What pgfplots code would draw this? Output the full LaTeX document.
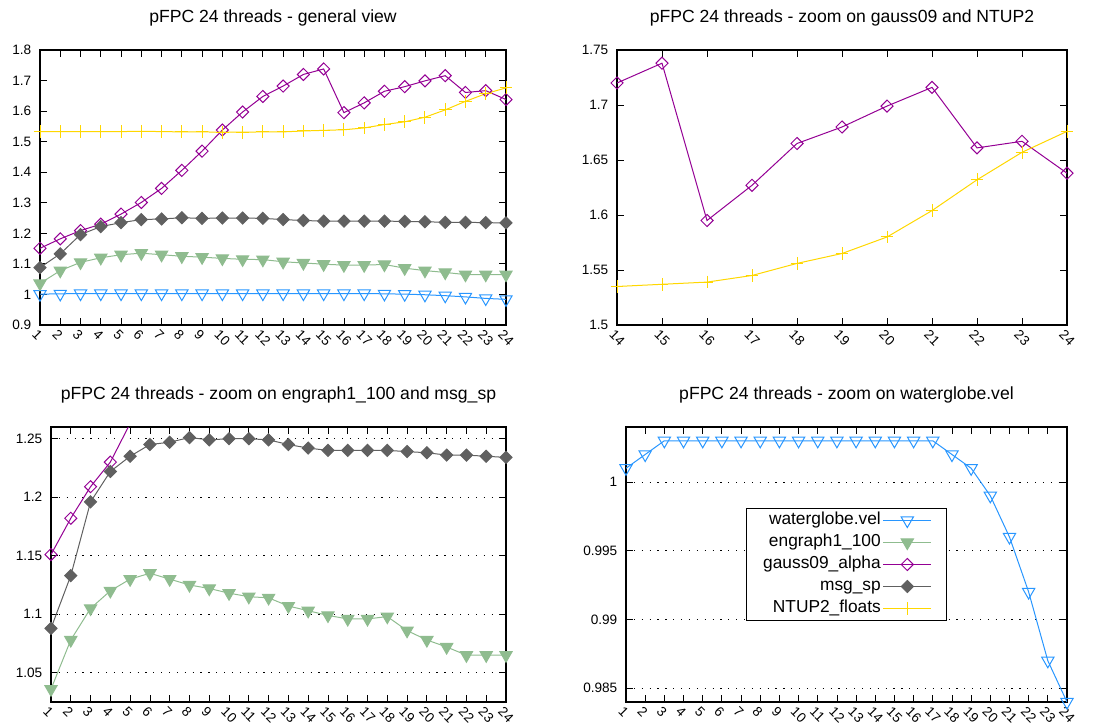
\documentclass[border=0pt]{standalone}
\usepackage{fontspec}
\setmainfont{Liberation Sans}
\usepackage{pgfplots}
\usepackage{pgfplotstable}
\pgfplotsset{compat=1.18}

\definecolor{wgblue}{RGB}{40,150,255}
\definecolor{engreen}{RGB}{143,188,143}
\definecolor{gpurple}{RGB}{148,0,148}
\definecolor{msgray}{RGB}{96,96,96}
\definecolor{ntgold}{RGB}{255,215,0}

% speedup per thread count, one column per benchmark
\pgfplotstableread{
x  wg     eng    gauss  msg    ntup
1  1.001  1.036  1.151  1.088  1.533
2  1.002  1.078  1.182  1.133  1.533
3  1.003  1.105  1.209  1.196  1.533
4  1.003  1.120  1.230  1.222  1.533
5  1.003  1.130  1.263  1.235  1.533
6  1.003  1.135  1.301  1.245  1.534
7  1.003  1.130  1.347  1.247  1.533
8  1.003  1.125  1.406  1.251  1.532
9  1.003  1.122  1.469  1.249  1.532
10 1.003  1.118  1.538  1.250  1.531
11 1.003  1.115  1.597  1.250  1.531
12 1.003  1.114  1.648  1.249  1.532
13 1.003  1.107  1.682  1.245  1.532
14 1.003  1.103  1.720  1.242  1.535
15 1.003  1.099  1.738  1.240  1.537
16 1.003  1.096  1.595  1.240  1.539
17 1.003  1.096  1.627  1.240  1.545
18 1.002  1.098  1.665  1.240  1.556
19 1.001  1.086  1.680  1.239  1.565
20 0.999  1.078  1.699  1.238  1.580
21 0.996  1.072  1.716  1.236  1.604
22 0.992  1.065  1.661  1.236  1.632
23 0.987  1.065  1.667  1.235  1.657
24 0.984  1.065  1.638  1.234  1.676
}\speedup

\newcommand\legendfont{\fontsize{13}{15}\selectfont}

\pgfplotsset{
  panel/.style={
    scale only axis, height=206.25pt,
    axis line style={line width=1pt, black},
    tick align=inside, major tick length=5.5pt,
    tick style={line width=0.6pt, black},
    /pgf/number format/assume math mode=true,
    /pgf/number format/precision=3,
    ticklabel style={font=\fontsize{10.2}{12}\selectfont},
    xticklabel style={rotate=-45, anchor=north west, inner sep=1pt, yshift=-2pt},
    yticklabel style={xshift=-3pt},
    title style={font=\fontsize{13.2}{15}\selectfont, at={(0.5,1)}, anchor=base, yshift=14.5pt},
    legend image code/.code={\draw[mark repeat=2, mark phase=2, #1] plot coordinates {(0pt,0pt) (18pt,0pt) (36pt,0pt)};},
  },
  dotgrid/.style={ymajorgrids, major grid style={line width=0.6pt, black, dash pattern=on 0.9pt off 5pt}},
  wgline/.style={wgblue, line width=0.75pt, mark=triangle, mark size=5.3pt, mark options={rotate=180, solid}},
  engline/.style={engreen, line width=0.75pt, mark=triangle*, mark size=5.3pt, mark options={rotate=180, fill=engreen}},
  gline/.style={gpurple, line width=0.75pt, mark=square, mark size=3.2pt, mark options={rotate=45}},
  msgline/.style={msgray, line width=0.75pt, mark=square*, mark size=3.2pt, mark options={rotate=45, fill=msgray}},
  ntline/.style={ntgold, line width=0.75pt, mark=+, mark size=4.8pt},
}

\begin{document}
\begin{tikzpicture}
\useasboundingbox (0,0) rectangle (822pt,544.5pt);

% overall view
\begin{axis}[panel, at={(30pt,300.75pt)}, anchor=south west, width=349.5pt,
  xmin=1, xmax=24, ymin=0.9, ymax=1.8, xtick={1,...,24}, ytick={0.9,1,...,1.8},
  title={pFPC 24 threads - general view}]
  \addplot[wgline] table[x=x, y=wg] {\speedup};
  \addplot[engline] table[x=x, y=eng] {\speedup};
  \addplot[gline] table[x=x, y=gauss] {\speedup};
  \addplot[msgline] table[x=x, y=msg] {\speedup};
  \addplot[ntline] table[x=x, y=ntup] {\speedup};
\end{axis}

% 14 to 24 threads
\begin{axis}[panel, at={(462.75pt,300.75pt)}, anchor=south west, width=337.5pt,
  xmin=14, xmax=24, ymin=1.5, ymax=1.75, xtick={14,...,24}, ytick={1.5,1.55,...,1.76},
  title={pFPC 24 threads - zoom on gauss09 and NTUP2}]
  \addplot[gline] table[x=x, y=gauss] {\speedup};
  \addplot[ntline] table[x=x, y=ntup] {\speedup};
\end{axis}

% engraph and msg detail
\begin{axis}[panel, dotgrid, at={(38.25pt,18pt)}, anchor=south west, width=341.25pt,
  xmin=1, xmax=24, ymin=1.025, ymax=1.26, xtick={1,...,24}, ytick={1.05,1.1,...,1.26},
  title={pFPC 24 threads - zoom on engraph1\_100 and msg\_sp}]
  \addplot[engline] table[x=x, y=eng] {\speedup};
  \addplot[gline] table[x=x, y=gauss] {\speedup};
  \addplot[msgline] table[x=x, y=msg] {\speedup};
\end{axis}

% waterglobe detail
\begin{axis}[panel, dotgrid, at={(469.5pt,18pt)}, anchor=south west, width=330.75pt,
  xmin=1, xmax=24, ymin=0.984, ymax=1.004, xtick={1,...,24}, ytick={0.985,0.99,0.995,1},
  title={pFPC 24 threads - zoom on waterglobe.vel},
  legend style={at={(0.5,0.5)}, anchor=center, draw=black, line width=0.8pt,
    font=\legendfont, legend plot pos=right, cells={anchor=east},
    nodes={text height=10pt, text depth=3.5pt, inner sep=1.5pt}, row sep=0pt,
    inner xsep=11pt, inner ysep=1pt}]
  \addplot[wgline] table[x=x, y=wg] {\speedup};
  \addlegendentry{waterglobe.vel}
  \addlegendimage{engline}
  \addlegendentry{engraph1\_100}
  \addlegendimage{gline}
  \addlegendentry{gauss09\_alpha}
  \addlegendimage{msgline}
  \addlegendentry{msg\_sp}
  \addlegendimage{ntline}
  \addlegendentry{NTUP2\_floats}
\end{axis}
\end{tikzpicture}
\end{document}
